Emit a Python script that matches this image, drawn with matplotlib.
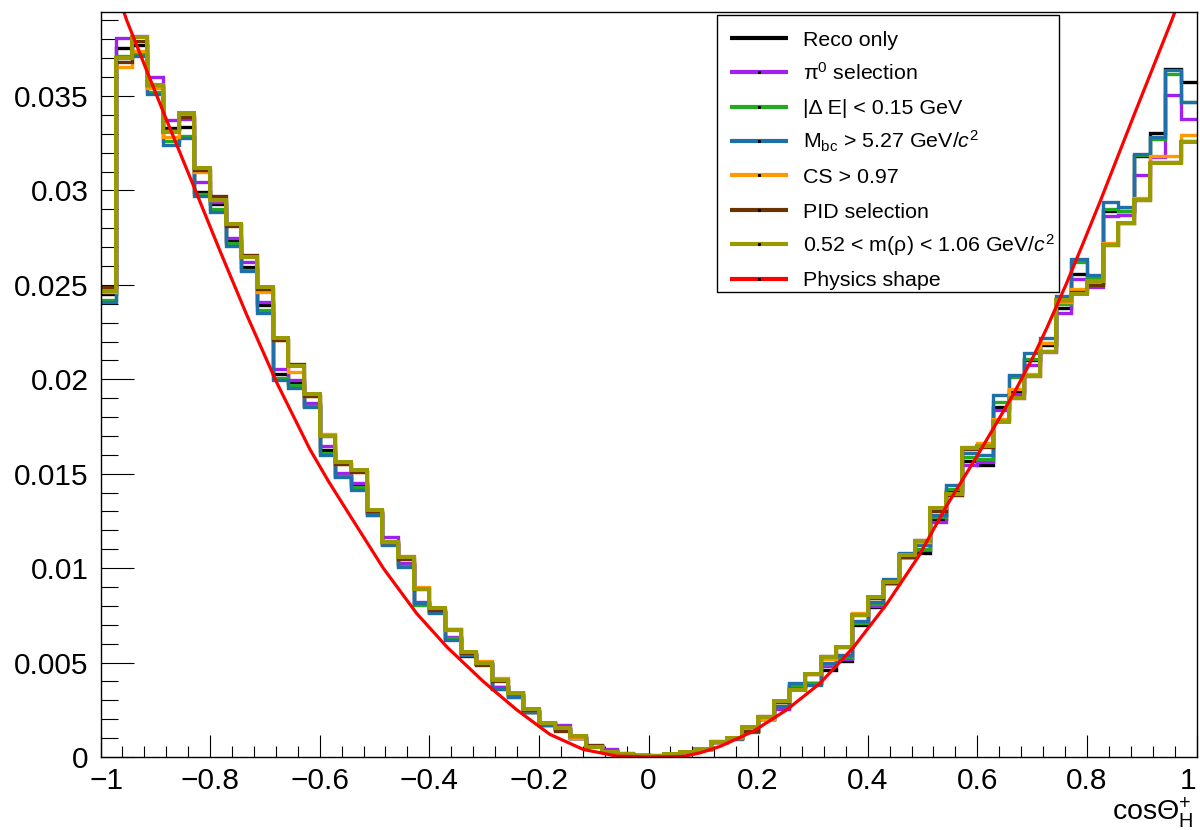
import numpy as np
import matplotlib
matplotlib.use("Agg")
import matplotlib.pyplot as plt
from matplotlib.patches import Rectangle
from matplotlib.lines import Line2D
from matplotlib.transforms import ScaledTranslation
from matplotlib.ticker import MultipleLocator, FixedLocator, FixedFormatter

plt.rcParams['font.family'] = ['Liberation Sans', 'DejaVu Sans']
plt.rcParams['mathtext.fontset'] = 'custom'
plt.rcParams['mathtext.rm'] = 'Liberation Sans'
plt.rcParams['mathtext.it'] = 'Liberation Sans:italic'
plt.rcParams['mathtext.bf'] = 'Liberation Sans:bold'

# ---------------- data ----------------
n_bins = 70
x_range = (-1.0, 1.0)

reco_only = [0.0245, 0.03757, 0.0377, 0.0355, 0.0333, 0.03338, 0.02993, 0.0293, 0.0273, 0.02596,
 0.02393, 0.02028, 0.01979, 0.0186, 0.01626, 0.0149, 0.0144, 0.0129, 0.0113, 0.0102,
 0.0081, 0.0077, 0.0063, 0.00535, 0.0049, 0.0037, 0.0033, 0.0024, 0.00172, 0.0015,
 0.0010, 0.0006, 0.0003, 0.00018, 0.00008, 0.00007, 0.00017, 0.00025, 0.0004, 0.0008,
 0.00098, 0.0014, 0.0020, 0.0026, 0.0037, 0.0039, 0.00461, 0.0051, 0.0070, 0.00793,
 0.0092, 0.0106, 0.0108, 0.0126, 0.0141, 0.0157, 0.01546, 0.01855, 0.0194, 0.0210,
 0.0218, 0.0238, 0.02555, 0.02508, 0.02893, 0.0289, 0.0318, 0.03306, 0.03641, 0.03575]

pi0_sel = [0.0246, 0.03805, 0.0382, 0.0360, 0.03373, 0.0338, 0.03046, 0.0294, 0.02746, 0.0262,
 0.02411, 0.02053, 0.01996, 0.01873, 0.01647, 0.01502, 0.01449, 0.0129, 0.01163, 0.01029,
 0.0082, 0.0077, 0.00634, 0.0054, 0.0049, 0.0037, 0.0033, 0.0024, 0.0018, 0.0017,
 0.0010, 0.0006, 0.00041, 0.0002, 0.0001, 0.0001, 0.00017, 0.00025, 0.0004, 0.0008,
 0.00098, 0.0014, 0.0020, 0.00255, 0.00375, 0.0039, 0.0048, 0.0052, 0.00716, 0.0080,
 0.0092, 0.0106, 0.01096, 0.01246, 0.0140, 0.01546, 0.0156, 0.0184, 0.0192, 0.02076,
 0.02146, 0.02349, 0.0253, 0.0249, 0.02865, 0.0287, 0.03082, 0.03175, 0.03505, 0.03376]

de_sel = [0.0242, 0.0371, 0.0372, 0.0352, 0.0326, 0.0329, 0.0298, 0.0290, 0.0272, 0.0258,
 0.02367, 0.02005, 0.0197, 0.0186, 0.0161, 0.0149, 0.0143, 0.0128, 0.0113, 0.0101,
 0.00805, 0.0077, 0.0063, 0.0054, 0.0049, 0.0036, 0.0032, 0.0024, 0.0017, 0.0015,
 0.0010, 0.0006, 0.0003, 0.00018, 0.00008, 0.00007, 0.00017, 0.00025, 0.0004, 0.0008,
 0.00098, 0.0014, 0.0020, 0.0027, 0.0038, 0.0039, 0.0049, 0.0053, 0.0071, 0.0081,
 0.0092, 0.0106, 0.0110, 0.0127, 0.0142, 0.0159, 0.0158, 0.0188, 0.0201, 0.0211,
 0.0219, 0.0240, 0.0262, 0.0254, 0.0290, 0.02893, 0.0319, 0.0327, 0.03616, 0.0347]

mbc_sel = [0.0241, 0.0370, 0.0371, 0.0351, 0.0324, 0.0328, 0.0297, 0.02887, 0.02706, 0.02575,
 0.02353, 0.01996, 0.01952, 0.01852, 0.01599, 0.01484, 0.01414, 0.01281, 0.0112, 0.01004,
 0.00814, 0.00761, 0.0062, 0.0054, 0.0049, 0.00358, 0.00319, 0.0024, 0.0017, 0.0015,
 0.0010, 0.0006, 0.0003, 0.00018, 0.00008, 0.00007, 0.00017, 0.00025, 0.0004, 0.00085,
 0.00095, 0.00135, 0.0020, 0.0027, 0.0039, 0.00381, 0.00496, 0.0054, 0.0072, 0.0082,
 0.0094, 0.0108, 0.0112, 0.0128, 0.0144, 0.01608, 0.0160, 0.01917, 0.02023, 0.02138,
 0.02221, 0.02441, 0.02635, 0.02552, 0.0294, 0.02914, 0.03193, 0.03285, 0.03638, 0.0347]

cs_sel = [0.0246, 0.03655, 0.0374, 0.0354, 0.03285, 0.0340, 0.0310, 0.0295, 0.02822, 0.0265,
 0.02464, 0.0221, 0.0204, 0.0191, 0.0171, 0.0155, 0.0151, 0.0131, 0.0114, 0.01066,
 0.0090, 0.0079, 0.0067, 0.0055, 0.00508, 0.00417, 0.0034, 0.0025, 0.0018, 0.0015,
 0.0010, 0.0006, 0.0003, 0.00018, 0.00008, 0.00007, 0.00017, 0.00025, 0.0004, 0.0008,
 0.00098, 0.0014, 0.0020, 0.0029, 0.0036, 0.0044, 0.0052, 0.0058, 0.0076, 0.0084,
 0.0092, 0.0106, 0.0114, 0.0131, 0.0139, 0.01643, 0.01661, 0.0179, 0.0195, 0.0203,
 0.0219, 0.0241, 0.02476, 0.0251, 0.0272, 0.0283, 0.0296, 0.03182, 0.0318, 0.03293]

pid_sel = [0.0249, 0.0368, 0.0379, 0.0356, 0.0332, 0.0339, 0.0311, 0.0297, 0.0281, 0.0266,
 0.0248, 0.0221, 0.0208, 0.0191, 0.0170, 0.0155, 0.0151, 0.0130, 0.0114, 0.0105,
 0.0089, 0.0078, 0.0068, 0.0055, 0.00487, 0.0040, 0.0034, 0.0025, 0.0018, 0.0014,
 0.0011, 0.00064, 0.0003, 0.00018, 0.00008, 0.00007, 0.00017, 0.00025, 0.0004, 0.0008,
 0.00098, 0.0014, 0.00215, 0.0029, 0.0036, 0.0044, 0.00535, 0.0058, 0.0075, 0.0084,
 0.0092, 0.0106, 0.0115, 0.0130, 0.0139, 0.0163, 0.0164, 0.0178, 0.0190, 0.0202,
 0.0215, 0.0242, 0.0246, 0.0250, 0.0271, 0.02829, 0.0295, 0.0315, 0.0315, 0.0326]

mrho_sel = [0.0247, 0.0370, 0.0381, 0.0356, 0.0331, 0.0341, 0.0312, 0.0295, 0.0282, 0.0265,
 0.0249, 0.0222, 0.0207, 0.0192, 0.0170, 0.0156, 0.0152, 0.0131, 0.0114, 0.0106,
 0.0089, 0.0079, 0.0067, 0.00555, 0.0050, 0.0041, 0.0034, 0.00253, 0.00178, 0.00152,
 0.0011, 0.00055, 0.00028, 0.00016, 0.00007, 0.00006, 0.00018, 0.00026, 0.00041, 0.00078,
 0.00100, 0.00157, 0.0021, 0.00296, 0.00355, 0.0044, 0.00528, 0.00581, 0.00752, 0.00846,
 0.00928, 0.0107, 0.01145, 0.01317, 0.01393, 0.01634, 0.01647, 0.01776, 0.01899, 0.02017,
 0.02146, 0.0242, 0.0245, 0.0252, 0.0271, 0.0283, 0.0295, 0.03143, 0.03143, 0.03258]

phys_x = [-0.965, -0.952, -0.915, -0.879, -0.855, -0.831, -0.782, -0.733, -0.678, -0.618,
          -0.584, -0.545, -0.484, -0.423, -0.367, -0.3015, -0.265, -0.2405, -0.18, -0.119,
          -0.058, 0.003, 0.0635, 0.094, 0.1305, 0.1912, 0.2522, 0.313, 0.3737, 0.4347,
          0.4923, 0.544, 0.605, 0.6657, 0.7022, 0.7266, 0.7631, 0.793, 0.8239, 0.8847,
          0.9547, 0.97]
phys_y = [0.0401, 0.0390, 0.0363, 0.0337, 0.0320, 0.0303, 0.0268, 0.0234, 0.0198, 0.0163,
          0.0146, 0.0128, 0.0100, 0.0076, 0.0058, 0.0040, 0.0031, 0.0025, 0.0012, 0.0004,
          0.00005, 0.0, 0.00003, 0.00022, 0.00056, 0.00136, 0.0025, 0.0039, 0.0058, 0.0081,
          0.0106, 0.0133, 0.0162, 0.0192, 0.0212, 0.0227, 0.0251, 0.0272, 0.0294, 0.0339,
          0.0390, 0.0402]

labels = ["Reco only", "π$^{0}$ selection", "|Δ E| < 0.15 GeV",
          "M$_{\\mathrm{bc}}$ > 5.27 GeV/$c^{2}$", "CS > 0.97", "PID selection",
          "0.52 < m(ρ) < 1.06 GeV/$c^{2}$", "Physics shape"]
colors = ['#000000', '#a020f0', '#22aa22', '#1f6fa8', '#ff9900', '#6b3300', '#999900', '#ff0000']
series = [reco_only, pi0_sel, de_sel, mbc_sel, cs_sel, pid_sel, mrho_sel]

xtick_vals = [-1, -0.8, -0.6, -0.4, -0.2, 0, 0.2, 0.4, 0.6, 0.8, 1]
xtick_labels = ['\u22121', '\u22120.8', '\u22120.6', '\u22120.4', '\u22120.2', '0', '0.2', '0.4', '0.6', '0.8', '1']
ytick_vals = [0, 0.005, 0.01, 0.015, 0.02, 0.025, 0.03, 0.035]
ytick_labels = ['0', '0.005', '0.01', '0.015', '0.02', '0.025', '0.03', '0.035']

# ---------------- figure ----------------
W, H = 1200, 830
fig = plt.figure(figsize=(W / 100, H / 100), dpi=100)
ax_l, ax_r, ax_t, ax_b = 100.5, 1196.5, 12, 757
ax = fig.add_axes([ax_l / W, 1 - ax_b / H, (ax_r - ax_l) / W, (ax_b - ax_t) / H])

edges = np.linspace(x_range[0], x_range[1], n_bins + 1)
for vals, col in zip(series, colors[:7]):
    lw = 2.9 if col == '#999900' else 2.4
    ax.stairs(vals, edges, baseline=None, color=col, lw=lw, zorder=3)
ax.plot(phys_x, phys_y, color=colors[7], lw=2.3, zorder=4, solid_joinstyle='round')

ax.set_xlim(-1, 1)
ax.set_ylim(0, 0.03945)

ax.xaxis.set_major_locator(FixedLocator(xtick_vals))
ax.xaxis.set_major_formatter(FixedFormatter(xtick_labels))
ax.xaxis.set_minor_locator(MultipleLocator(0.04))
ax.yaxis.set_major_locator(FixedLocator(ytick_vals))
ax.yaxis.set_major_formatter(FixedFormatter(ytick_labels))
ax.yaxis.set_minor_locator(MultipleLocator(0.001))

ax.tick_params(axis='both', which='both', direction='in', top=False, right=False,
               width=0.8, labelsize=21.5, colors='black')
ax.tick_params(axis='x', which='major', length=16, pad=7)
ax.tick_params(axis='x', which='minor', length=8)
ax.tick_params(axis='y', which='major', length=24, pad=8.5)
ax.tick_params(axis='y', which='minor', length=12)
for s in ax.spines.values():
    s.set_linewidth(1.0)
    s.set_zorder(5)

# keep the end x tick labels clear of the canvas edge and of the y labels
fig.canvas.draw()
xlbls = ax.get_xticklabels()
xlbls[-1].set_horizontalalignment('right')
xlbls[0].set_transform(xlbls[0].get_transform() + ScaledTranslation(6 / 100, 0, fig.dpi_scale_trans))

# x axis title
ax.text(0.997, (ax_b - 819.5) / (ax_b - ax_t), 'cosΘ$^{+}_{\\mathrm{H}}$', transform=ax.transAxes,
        ha='right', va='baseline', fontsize=20.5)

# legend (ROOT style box)
def ax_x(px):
    return (px - ax_l) / (ax_r - ax_l)

def ax_y(py):
    return (ax_b - py) / (ax_b - ax_t)

leg_l, leg_r, leg_t, leg_b = 717, 1059, 15, 292
ax.add_patch(Rectangle((ax_x(leg_l), ax_y(leg_b)), ax_x(leg_r) - ax_x(leg_l), ax_y(leg_t) - ax_y(leg_b),
                       transform=ax.transAxes, facecolor='white', edgecolor='black', lw=1.0, zorder=6))
row0, drow = 37.7, 34.4
for i, (lab, col) in enumerate(zip(labels, colors)):
    yy = row0 + drow * i
    ax.add_line(Line2D([ax_x(730), ax_x(788)], [ax_y(yy), ax_y(yy)], transform=ax.transAxes,
                       color=col, lw=3.0, zorder=7, solid_capstyle='butt'))
    if i > 0:
        ax.add_line(Line2D([ax_x(759)], [ax_y(yy)], transform=ax.transAxes, marker='s',
                           markersize=1.2, color='black', lw=0, zorder=8))
    ax.text(ax_x(803), ax_y(yy + 7.8), lab, transform=ax.transAxes, ha='left', va='baseline',
            fontsize=15.4, zorder=8)

fig.savefig('out.png', dpi=100)
